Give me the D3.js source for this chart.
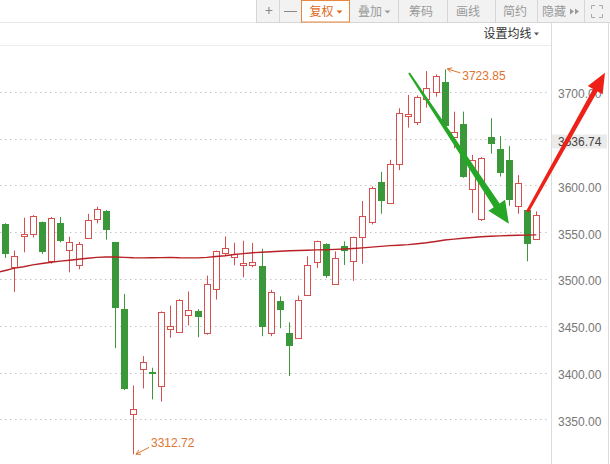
<!DOCTYPE html>
<html><head><meta charset="utf-8">
<script src="https://cdn.jsdelivr.net/npm/d3@7"></script>
<style>body{margin:0;background:#fff;} svg{display:block;font-family:"Liberation Sans",Arial,"Noto Sans CJK SC",sans-serif;}</style>
</head><body><svg id="c" width="610" height="464"></svg>
<script>
// ---- data ----
const candleOpen = [3558.2,3512.8,3545.8,3548.0,3560.8,3518.8,3559.7,3530.5,3514.9,3543.7,
  3564.0,3572.8,3539.0,3468.3,3356.1,3404.0,3400.1,3385.9,3446.7,3443.1,
  3461.6,3466.2,3442.4,3488.9,3527.7,3523.5,3514.9,3514.9,3513.4,3442.4,
  3476.1,3442.7,3436.7,3482.9,3518.4,3537.6,3495.0,3535.5,3519.2,3544.8,
  3560.8,3603.7,3581.0,3622.9,3673.8,3667.4,3691.9,3699.4,3710.3,3651.4,
  3665.6,3595.9,3564.0,3651.4,3638.9,3627.2,3577.4,3573.6,3542.6];
const candleHigh = [3559.5,3530.2,3565.4,3568.2,3561.2,3566.1,3566.1,3545.1,3539.4,3569.6,
  3577.1,3573.5,3539.5,3484.0,3386.2,3417.5,3405.1,3465.3,3471.5,3478.3,
  3486.5,3467.6,3503.5,3530.2,3545.4,3538.7,3540.8,3538.4,3532.3,3488.3,
  3481.4,3453.7,3482.2,3524.1,3540.8,3538.0,3529.4,3540.1,3545.1,3583.2,
  3598.7,3614.4,3627.2,3682.3,3696.5,3696.0,3722.0,3718.5,3723.85,3678.7,
  3678.7,3632.5,3630.1,3671.6,3652.5,3641.8,3610.9,3574.0,3572.1];
const candleLow = [3522.4,3486.1,3528.4,3544.3,3526.7,3516.3,3539.0,3507.0,3510.2,3543.0,
  3559.3,3541.9,3426.0,3381.2,3312.72,3383.0,3371.3,3368.9,3437.1,3442.4,
  3450.2,3437.7,3440.3,3477.9,3525.6,3514.5,3501.7,3512.4,3438.8,3438.8,
  3447.3,3396.2,3436.0,3482.5,3511.7,3501.1,3494.5,3514.9,3497.9,3516.3,
  3558.2,3569.6,3580.5,3616.2,3661.6,3664.2,3682.9,3694.7,3659.2,3639.7,
  3608.0,3570.4,3561.8,3633.9,3609.4,3578.1,3569.6,3518.8,3542.3];
const candleClose = [3526.2,3524.5,3548.3,3567.5,3529.1,3565.0,3540.1,3539.4,3537.3,3562.5,
  3574.6,3551.8,3468.7,3382.3,3361.4,3411.5,3398.0,3464.8,3449.5,3477.9,
  3467.3,3459.5,3494.7,3529.9,3533.0,3526.7,3517.4,3518.4,3448.4,3486.5,
  3466.5,3428.1,3477.9,3515.2,3540.3,3502.8,3522.0,3529.9,3544.8,3567.2,
  3597.3,3582.7,3622.6,3677.0,3676.2,3694.0,3703.6,3716.7,3663.4,3656.7,
  3608.7,3627.2,3629.0,3643.9,3613.6,3583.8,3602.3,3537.3,3568.5];
const maValues = [3509,3511.5,3513,3515,3516.5,3517.8,3519,3520,3521,3522,
  3523,3523.4,3523.4,3523,3522.6,3522.5,3522.6,3522.7,3523,3522.6,
  3522.5,3522.5,3523,3524,3524.7,3526,3527,3528,3528.5,3529,
  3529.5,3530,3530.3,3530.6,3531,3531.2,3531.5,3532,3532.5,3533.2,
  3534,3534.8,3535.5,3536,3536.6,3537.5,3538.6,3540,3541.5,3542.5,
  3543.5,3544.3,3545,3545.6,3546,3546.3,3546.6,3546.8,3547];
const maBefore = 3506.5; // MA value of the (off-screen) bar before the first visible one
const yTicks = [3350,3400,3450,3500,3550,3600,3650,3700];
const lastPriceLabel = "3636.74";
const highMark = {index:48, value:3723.85};
const lowMark = {index:14, value:3312.72};
// hand-drawn arrows in data terms: [index, price]
const greenArrow = {from:[44.1,3720], to:[55.0,3559]};
const redArrow = {from:[57.03,3571.7], to:[65.5,3720.3]};
const toolbarLabels = ["复权","叠加","筹码","画线","简约","隐藏"];
const headerLabel = "设置均线";

// ---- drawing ----
const n = candleOpen.length;
const svg = d3.select("#c");
const RED = "#d64f4f", GREEN = "#3a973a", ORANGE = "#dd7430";
const plotRight = 551;

const x = d3.scaleBand().domain(d3.range(n)).range([0.72, 540.9]).paddingInner(0.25).paddingOuter(0.125);
const y = d3.scaleLinear().domain([3350,3700]).range([419.3,91.7]);
const xc = i => x(i) + x.bandwidth()/2;
const xi = d3.scaleLinear().domain([0,n-1]).range([xc(0), xc(n-1)]);

// toolbar
const tb = svg.append("g");
svg.append("line").attr("x1",0).attr("x2",256).attr("y1",22.5).attr("y2",22.5).attr("stroke","#e6e6e6");
tb.append("rect").attr("x",256.5).attr("y",-1).attr("width",360).attr("height",23.5).attr("fill","#f2f2f2").attr("stroke","#d6d6d6");
[279.5,398.5,447.5,495.5,537.5,584.5].forEach(sx=>tb.append("line").attr("x1",sx).attr("x2",sx).attr("y1",0).attr("y2",22).attr("stroke","#d6d6d6"));
tb.append("rect").attr("x",301.5).attr("y",0.5).attr("width",48).attr("height",21.5).attr("fill","#fff").attr("stroke","#e8883e");
const tbText = (t,cx,col,size)=>tb.append("text").attr("x",cx).attr("y",11.5).attr("dy","0.35em").attr("text-anchor","middle")
  .attr("font-family","'Noto Sans CJK SC',sans-serif").attr("font-size",size||12).attr("fill",col).text(t);
tbText("+",269,"#888",14);
tb.append("line").attr("x1",284).attr("x2",297).attr("y1",11.5).attr("y2",11.5).attr("stroke","#888");
const cxs = [321.5,370,421,468,515,554];
toolbarLabels.forEach((t,i)=>tbText(t,cxs[i], i===0?"#e0691a":"#9a9a9a"));
const tri = (cx,cy,col)=>tb.append("path").attr("d",`M${cx-3},${cy-1.5}L${cx+3},${cy-1.5}L${cx},${cy+1.5}Z`).attr("fill",col);
tri(339.5,12,"#e0691a"); tri(387.5,12,"#9a9a9a");
[570,575].forEach(px=>tb.append("path").attr("d",`M${px},${8.5}L${px+4},${11.5}L${px},${14.5}Z`).attr("fill","#9a9a9a"));
// fullscreen icon
const fs = tb.append("g").attr("stroke","#aaa").attr("fill","none").attr("stroke-width",1);
fs.append("path").attr("d","M591.5,9V5.5H595M599,5.5H602.5V9M602.5,14V17.5H599M595,17.5H591.5V14");

// header row
svg.append("line").attr("x1",0).attr("x2",plotRight).attr("y1",45.5).attr("y2",45.5).attr("stroke","#ececec");
svg.append("text").attr("x",531.5).attr("y",34).attr("dy","0.35em").attr("text-anchor","end")
  .attr("font-family","'Noto Sans CJK SC',sans-serif").attr("font-size",12).attr("fill","#333").text(headerLabel);
svg.append("path").attr("d","M534,32.5L539,32.5L536.5,35.5Z").attr("fill","#555");

// frame lines
svg.append("line").attr("x1",plotRight+0.5).attr("x2",plotRight+0.5).attr("y1",22).attr("y2",464).attr("stroke","#dcdcdc");
svg.append("line").attr("x1",608.5).attr("x2",608.5).attr("y1",22).attr("y2",464).attr("stroke","#dcdcdc");

// grid
svg.append("g").selectAll("line").data(yTicks).join("line")
  .attr("x1",0).attr("x2",548).attr("y1",d=>Math.round(y(d))+0.5).attr("y2",d=>Math.round(y(d))+0.5)
  .attr("stroke","#c4c4c4").attr("stroke-dasharray","1.5,3.5");

// axis
const ax = svg.append("g").attr("transform",`translate(${plotRight},0)`)
  .call(d3.axisRight(y).tickValues(yTicks).tickSize(0).tickPadding(7).tickFormat(d3.format(".2f")));
ax.select(".domain").remove();
ax.selectAll("text").attr("font-size",12).attr("fill","#777").attr("dy","0.5em").attr("font-family","'Liberation Sans',Arial,sans-serif");

// last price box
svg.append("rect").attr("x",552).attr("y",134.5).attr("width",55).attr("height",14).attr("fill","#ebebeb");
svg.append("text").attr("x",558).attr("y",141.5).attr("dy","0.36em").attr("font-size",12).attr("fill","#444").text(lastPriceLabel);

// clip for plot area
svg.append("clipPath").attr("id","plotclip").append("rect").attr("x",0).attr("y",46).attr("width",plotRight).attr("height",420);

// candles
const cg = svg.append("g");
d3.range(n).forEach(i=>{
  const o=candleOpen[i], c=candleClose[i], h=candleHigh[i], l=candleLow[i];
  const cx = Math.round(xc(i))+0.5;
  if (c >= o) {
    const yt = Math.round(y(c))+0.5, yb = Math.round(y(o))+0.5;
    cg.append("line").attr("x1",cx).attr("x2",cx).attr("y1",y(h)).attr("y2",yt).attr("stroke",RED);
    cg.append("line").attr("x1",cx).attr("x2",cx).attr("y1",yb).attr("y2",y(l)).attr("stroke",RED);
    cg.append("rect").attr("x",cx-3).attr("y",yt).attr("width",6).attr("height",Math.max(1,yb-yt))
      .attr("fill","#fff").attr("stroke",RED);
  } else {
    cg.append("line").attr("x1",cx).attr("x2",cx).attr("y1",y(h)).attr("y2",y(l)).attr("stroke",GREEN);
    const yt = Math.round(y(o)), yb = Math.round(y(c));
    cg.append("rect").attr("x",cx-3.5).attr("y",yt).attr("width",7).attr("height",Math.max(1,yb-yt)).attr("fill",GREEN);
  }
});

// moving average (with the previous bar's value so the line enters from the left edge)
const maSeries = [maBefore, ...maValues];
svg.append("path").datum(maSeries).attr("clip-path","url(#plotclip)").attr("fill","none").attr("stroke","#b82025").attr("stroke-width",1.4)
  .attr("d", d3.line().x((d,i)=>xi(i-1)).y(d=>y(d)));

// high / low labels
function markLabel(m, above){
  const px = xc(m.index)+0.5, py = y(m.value);
  const g = svg.append("g");
  const ex = px+15, ey = above ? py+3.5 : py-6.8;
  const sx = px+2, sy = above ? py-0.5 : py;
  g.append("line").attr("x1",sx).attr("y1",sy).attr("x2",ex).attr("y2",ey).attr("stroke",ORANGE).attr("stroke-width",1);
  const a = Math.atan2(ey-sy, ex-sx);
  const hl=5, hw=0.5;
  g.append("path").attr("d",`M${sx+hl*Math.cos(a+hw)},${sy+hl*Math.sin(a+hw)}L${sx},${sy}L${sx+hl*Math.cos(a-hw)},${sy+hl*Math.sin(a-hw)}`)
    .attr("fill","none").attr("stroke",ORANGE);
  g.append("text").attr("x",px+17).attr("y", above ? py+6.5 : py-11.5).attr("dy","0.36em")
    .attr("font-size",12).attr("fill",ORANGE).text(d3.format(".2f")(m.value));
}
markLabel(highMark,true);
markLabel(lowMark,false);

// hand-drawn arrows
function bigArrow(a, col, w0, w1, headLen, headW){
  const x0 = xi(a.from[0]), y0 = y(a.from[1]), x1 = xi(a.to[0]), y1 = y(a.to[1]);
  const L = Math.hypot(x1-x0,y1-y0), ux=(x1-x0)/L, uy=(y1-y0)/L, px=-uy, py=ux;
  const bx = x1-ux*headLen, by = y1-uy*headLen;
  const pts = [[x0+px*w0/2,y0+py*w0/2],[bx+px*w1/2,by+py*w1/2],[bx+px*headW,by+py*headW],[x1,y1],
    [bx-px*headW,by-py*headW],[bx-px*w1/2,by-py*w1/2],[x0-px*w0/2,y0-py*w0/2]];
  svg.append("path").attr("d","M"+pts.map(p=>p.join(",")).join("L")+"Z").attr("fill",col);
}
bigArrow(greenArrow,"#26a626",2,7,22,10);
bigArrow(redArrow,"#ee2118",3,5,20,8.5);
</script></body></html>
